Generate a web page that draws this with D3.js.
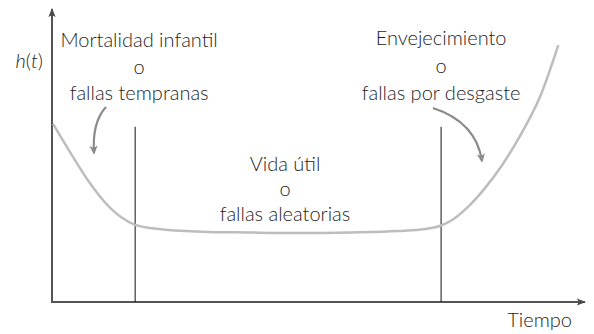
<!DOCTYPE html>
<html>
<head>
<meta charset="utf-8">
<script src="https://cdn.jsdelivr.net/npm/d3@7"></script>
<style>
  body { margin: 0; background: #fff; }
  text { font-family: Lato, "Open Sans", sans-serif; font-weight: 300; fill: #1e1e1e; font-size: 20px; }
</style>
</head>
<body>
<div id="chart"></div>
<script>
// Bathtub curve (tasa de fallas vs tiempo), schematic values
var tiempo = [0.02, 0.4, 0.7, 1.0, 1.3, 1.56, 2.0, 2.8, 3.7, 4.65, 5.6, 6.5, 7.0, 7.3, 7.5, 7.8, 8.1, 8.45, 8.8, 9.15, 9.5];
var tasa   = [6.1, 4.95, 4.1, 3.4, 2.9, 2.64, 2.5, 2.41, 2.38, 2.36, 2.38, 2.43, 2.5, 2.62, 2.8, 3.25, 3.85, 4.7, 5.75, 7.0, 8.8];

// limits between the three zones
var limites = [1.56, 7.3];
var alturaLimite = 6.0;

var etiquetas = [
    ["Mortalidad infantil", "o", "fallas tempranas"],
    ["Vida útil", "o", "fallas aleatorias"],
    ["Envejecimiento", "o", "fallas por desgaste"]
];

var svgWidth = 594;
var svgHeight = 334;

var svg = d3.select("#chart")
    .append("svg")
    .attr("width", svgWidth)
    .attr("height", svgHeight);

var x = d3.scaleLinear().domain([0, 10]).range([52, 585]);
var y = d3.scaleLinear().domain([0, 10]).range([302, 10]);

var defs = svg.append("defs");
defs.append("marker")
    .attr("id", "axisHead")
    .attr("viewBox", "0 0 10 10")
    .attr("refX", 9).attr("refY", 5)
    .attr("markerWidth", 10).attr("markerHeight", 9)
    .attr("markerUnits", "userSpaceOnUse")
    .attr("orient", "auto")
    .append("path")
    .attr("d", "M0,1 L10,5 L0,9 L2,5 z")
    .attr("fill", "#4a4a4a");
defs.append("marker")
    .attr("id", "grayHead")
    .attr("viewBox", "0 0 10 10")
    .attr("refX", 8).attr("refY", 5)
    .attr("markerWidth", 10).attr("markerHeight", 9)
    .attr("markerUnits", "userSpaceOnUse")
    .attr("orient", "auto")
    .append("path")
    .attr("d", "M0,0.5 L10,5 L0,9.5 L2.5,5 z")
    .attr("fill", "#8a8a8a");

// axes (plain lines with arrowheads)
svg.append("line")
    .attr("x1", x(0)).attr("y1", y(0))
    .attr("x2", x(0)).attr("y2", y(10) - 1)
    .attr("stroke", "#555").attr("stroke-width", 2)
    .attr("marker-end", "url(#axisHead)");
svg.append("line")
    .attr("x1", x(0) - 1).attr("y1", y(0))
    .attr("x2", x(10)).attr("y2", y(0))
    .attr("stroke", "#555").attr("stroke-width", 2)
    .attr("marker-end", "url(#axisHead)");

// zone limits
svg.selectAll(".limite")
    .data(limites)
    .enter()
    .append("line")
    .attr("class", "limite")
    .attr("x1", d => x(d)).attr("x2", d => x(d))
    .attr("y1", y(alturaLimite)).attr("y2", y(0))
    .attr("stroke", "#111").attr("stroke-width", 1);

// the curve
var puntos = tiempo.map((t, i) => [t, tasa[i]]);
var line = d3.line()
    .x(d => x(d[0]))
    .y(d => y(d[1]))
    .curve(d3.curveMonotoneX);
svg.append("path")
    .datum(puntos)
    .attr("d", line)
    .attr("fill", "none")
    .attr("stroke", "#bdbdbd")
    .attr("stroke-width", 2.5);

// labels
var centros = [x(limites[0]) + 4, 285, x(limites[1])];
var baseY = [[47, 73.5, 100], [171, 196, 221], [45, 72.5, 100]];
etiquetas.forEach((grupo, g) => {
    svg.selectAll(".lab" + g)
        .data(grupo)
        .enter()
        .append("text")
        .attr("class", "lab" + g)
        .attr("x", centros[g])
        .attr("y", (d, i) => baseY[g][i])
        .attr("text-anchor", "middle")
        .text(d => d);
});

// curved gray arrows
svg.append("path")
    .attr("d", "M106,107 Q92,122 94,153")
    .attr("fill", "none").attr("stroke", "#8a8a8a").attr("stroke-width", 2.2)
    .attr("marker-end", "url(#grayHead)");
svg.append("path")
    .attr("d", "M433,108 Q476,122 482,161")
    .attr("fill", "none").attr("stroke", "#8a8a8a").attr("stroke-width", 2.2)
    .attr("marker-end", "url(#grayHead)");

// axis titles
var ht = svg.append("text")
    .attr("x", 43).attr("y", 68)
    .attr("text-anchor", "end");
ht.append("tspan").style("font-style", "italic").text("h");
ht.append("tspan").text("(");
ht.append("tspan").style("font-style", "italic").text("t");
ht.append("tspan").text(")");

svg.append("text")
    .attr("x", 572).attr("y", 327)
    .attr("text-anchor", "end")
    .text("Tiempo");
</script>
</body>
</html>
